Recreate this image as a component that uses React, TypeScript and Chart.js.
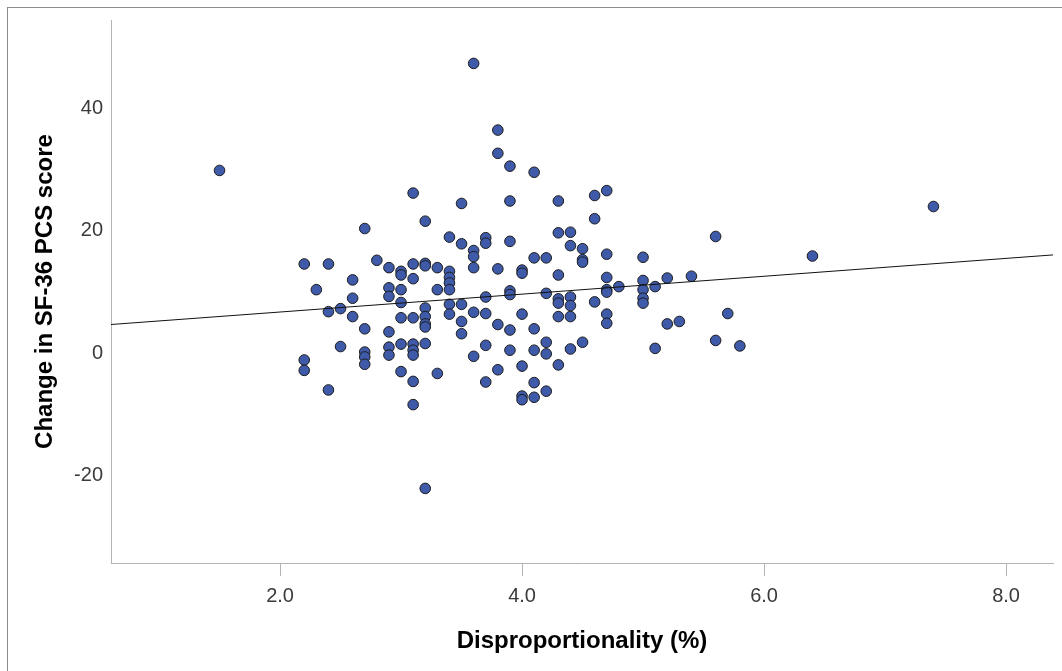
import React, { useEffect, useRef } from "react";
import { Chart, registerables } from "chart.js";

Chart.register(...registerables);

// Disproportionality (%) per patient
const disproportionality = [
  1.5,
  2.2, 2.2, 2.2,
  2.3,
  2.4, 2.4, 2.4,
  2.5, 2.5,
  2.6, 2.6, 2.6,
  2.7, 2.7, 2.7, 2.7, 2.7,
  2.8,
  2.9, 2.9, 2.9, 2.9, 2.9, 2.9,
  3.0, 3.0, 3.0, 3.0, 3.0, 3.0, 3.0,
  3.1, 3.1, 3.1, 3.1, 3.1, 3.1, 3.1, 3.1, 3.1,
  3.2, 3.2, 3.2, 3.2, 3.2, 3.2, 3.2, 3.2, 3.2,
  3.3, 3.3, 3.3,
  3.4, 3.4, 3.4, 3.4, 3.4, 3.4, 3.4,
  3.5, 3.5, 3.5, 3.5, 3.5,
  3.6, 3.6, 3.6, 3.6, 3.6, 3.6,
  3.7, 3.7, 3.7, 3.7, 3.7, 3.7,
  3.8, 3.8, 3.8, 3.8, 3.8,
  3.9, 3.9, 3.9, 3.9, 3.9, 3.9, 3.9,
  4.0, 4.0, 4.0, 4.0, 4.0, 4.0,
  4.1, 4.1, 4.1, 4.1, 4.1, 4.1,
  4.2, 4.2, 4.2, 4.2, 4.2,
  4.3, 4.3, 4.3, 4.3, 4.3, 4.3, 4.3,
  4.4, 4.4, 4.4, 4.4, 4.4, 4.4,
  4.5, 4.5, 4.5, 4.5,
  4.6, 4.6, 4.6,
  4.7, 4.7, 4.7, 4.7, 4.7, 4.7, 4.7,
  4.8,
  5.0, 5.0, 5.0, 5.0, 5.0,
  5.1, 5.1,
  5.2, 5.2,
  5.3,
  5.4,
  5.6, 5.6,
  5.7,
  5.8,
  6.4,
  7.4,
];

// Change in SF-36 PCS score, same order as above
const pcsChange = [
  29.9,
  14.6, -1.1, -2.8,
  10.4,
  14.6, 6.8, -6.0,
  7.3, 1.1,
  12.0, 9.0, 6.0,
  20.4, 4.0, 0.2, -0.6, -1.8,
  15.2,
  14.0, 10.7, 9.3, 3.5, 1.0, -0.3,
  13.4, 12.8, 10.4, 8.3, 5.8, 1.5, -3.0,
  26.2, 14.6, 12.2, 5.8, 1.5, 0.5, -0.3, -4.6, -8.4,
  21.6, 14.7, 14.3, 7.4, 6.0, 4.8, 4.3, 1.6, -22.1,
  14.0, 10.4, -3.3,
  19.0, 13.4, 12.4, 11.5, 10.4, 8.0, 6.4,
  24.5, 17.9, 8.0, 5.2, 3.2,
  47.4, 16.8, 15.8, 14.0, 6.7, -0.5,
  18.9, 18.0, 9.2, 6.5, 1.3, -4.7,
  36.5, 32.7, 13.8, 4.7, -2.7,
  30.6, 24.9, 18.3, 10.2, 9.6, 3.8, 0.5,
  13.6, 13.1, 6.4, -2.1, -7.0, -7.6,
  29.6, 15.6, 4.0, 0.5, -4.8, -7.2,
  15.6, 9.8, 1.8, -0.1, -6.2,
  24.9, 19.7, 12.8, 8.9, 8.2, 6.0, -1.9,
  19.8, 17.6, 9.2, 7.8, 6.0, 0.7,
  17.1, 15.3, 14.9, 1.8,
  25.8, 22.0, 8.4,
  26.6, 16.2, 12.4, 10.4, 10.0, 6.4, 4.9,
  10.9,
  15.7, 11.9, 10.4, 9.0, 8.2,
  10.9, 0.8,
  12.3, 4.8,
  5.2,
  12.6,
  19.1, 2.1,
  6.5,
  1.2,
  15.9,
  24.0,
];

// Fit line
const fitIntercept = 3.82;
const fitSlope = 1.462;

// Axes
const xRange = [0.603, 8.388];
const yRange = [-34.3, 54.5];
const xTickValues = [2, 4, 6, 8];
const yTickValues = [-20, 0, 20, 40];

const xTitle = "Disproportionality (%)";
const yTitle = "Change in SF-36 PCS score";

const FONT = "'Liberation Sans', Arial, Helvetica, sans-serif";

export default function App() {
  const canvasRef = useRef<HTMLCanvasElement | null>(null);

  useEffect(() => {
    const canvas = canvasRef.current;
    if (!canvas) return;

    const points = disproportionality.map((x, i) => ({ x, y: pcsChange[i] }));
    const fitPoints = xRange.map((x) => ({ x, y: fitIntercept + fitSlope * x }));

    const chart = new Chart(canvas, {
      type: "scatter",
      data: {
        datasets: [
          {
            type: "line",
            data: fitPoints,
            borderColor: "#111111",
            borderWidth: 1,
            pointRadius: 0,
            fill: false,
            order: 0,
          } as any,
          {
            type: "scatter",
            data: points,
            backgroundColor: "#3e5aa8",
            borderColor: "#1c1c1c",
            borderWidth: 1,
            pointRadius: 5.3,
            pointHoverRadius: 5.3,
            order: 1,
          },
        ],
      },
      options: {
        responsive: false,
        animation: false,
        events: [],
        layout: { padding: { left: 0, top: 17, right: 9, bottom: 0 } },
        plugins: {
          legend: { display: false },
          tooltip: { enabled: false },
        },
        scales: {
          x: {
            type: "linear",
            min: xRange[0],
            max: xRange[1],
            afterBuildTicks: (scale: any) => {
              scale.ticks = xTickValues.map((v) => ({ value: v }));
            },
            afterFit: (scale: any) => {
              scale.height = 108;
            },
            ticks: {
              autoSkip: false,
              maxRotation: 0,
              padding: 8,
              color: "#3a3a3a",
              font: { family: FONT, size: 20 },
              callback: (v: any) => Number(v).toFixed(1),
            },
            grid: {
              display: true,
              drawOnChartArea: false,
              drawTicks: true,
              tickLength: 13,
              color: "#b4b4b4",
              lineWidth: 1,
            },
            border: { display: true, color: "#b4b4b4", width: 1 },
            title: {
              display: true,
              text: xTitle,
              color: "#000000",
              font: { family: FONT, size: 24, weight: "bold" },
              padding: { top: 0, bottom: 15.6 },
            },
          },
          y: {
            type: "linear",
            min: yRange[0],
            max: yRange[1],
            afterBuildTicks: (scale: any) => {
              scale.ticks = yTickValues.map((v) => ({ value: v }));
            },
            afterFit: (scale: any) => {
              scale.width = 111;
            },
            ticks: {
              autoSkip: false,
              padding: 8,
              color: "#3a3a3a",
              font: { family: FONT, size: 20 },
              callback: (v: any) => String(Math.round(Number(v))),
            },
            grid: {
              display: true,
              drawOnChartArea: false,
              drawTicks: false,
            },
            border: { display: true, color: "#b4b4b4", width: 1 },
            title: {
              display: true,
              text: yTitle,
              color: "#000000",
              font: { family: FONT, size: 24, weight: "bold" },
              padding: { top: 30.6, bottom: 0 },
            },
          },
        },
      },
    });

    return () => {
      chart.destroy();
    };
  }, []);

  return (
    <div
      style={{
        position: "fixed",
        left: 0,
        top: 0,
        width: 1062,
        height: 671,
        overflow: "hidden",
        background: "#ffffff",
      }}
    >
      <div
        style={{
          position: "absolute",
          left: 7,
          top: 7,
          width: 1200,
          height: 800,
          border: "1px solid #8c8c8c",
          boxSizing: "border-box",
        }}
      />
      <canvas
        ref={canvasRef}
        width={1062}
        height={671}
        style={{ position: "absolute", left: 0, top: 0, width: 1062, height: 671 }}
      />
    </div>
  );
}
